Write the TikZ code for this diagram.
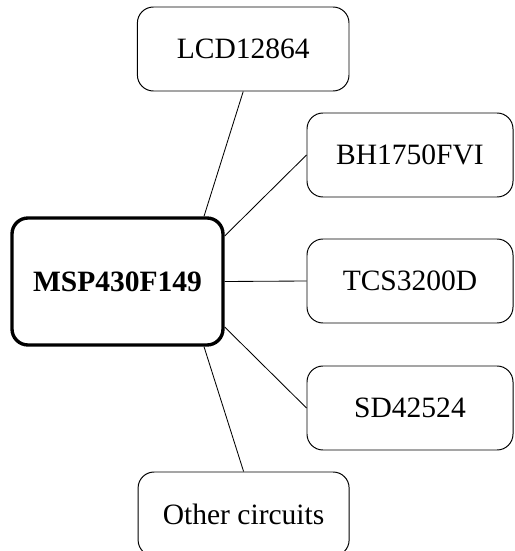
\documentclass[tikz,border=0pt]{standalone}
\usepackage{fontspec}
\setmainfont{Liberation Serif}
\begin{document}
\begin{tikzpicture}[font=\fontsize{21}{25}\selectfont,
  part/.style={draw, line width=0.7pt, rounded corners=0.4cm, minimum width=5.275cm, minimum height=2.1cm, align=center, inner sep=0pt},
  mcu/.style={part, line width=2.4pt, minimum height=3.175cm, font=\fontsize{21}{25}\selectfont\bfseries},
  link/.style={line width=0.6pt}]
  \useasboundingbox (0,0) rectangle (12.85,-13.775);
  \node[mcu] (msp) at (2.9375,-7.0375) {MSP430F149};
  \node[part, minimum width=5.29cm] (lcd) at (6.08,-1.225) {LCD12864};
  \node[part, minimum width=5.15cm] (bh) at (10.25,-3.875) {BH1750FVI};
  \node[part, minimum width=5.15cm] (tcs) at (10.25,-7.025) {TCS3200D};
  \node[part, minimum width=5.15cm] (sd) at (10.25,-10.2) {SD42524};
  \node[part] (other) at (6.09,-12.85) {Other circuits};
  \draw[link] (msp.37) -- (lcd.south);
  \draw[link] (msp.23) -- (bh.west);
  \draw[link] (msp.east) -- (tcs.west);
  \draw[link] (msp.-23) -- (sd.west);
  \draw[link] (msp.-37) -- (other.north);
\end{tikzpicture}
\end{document}
